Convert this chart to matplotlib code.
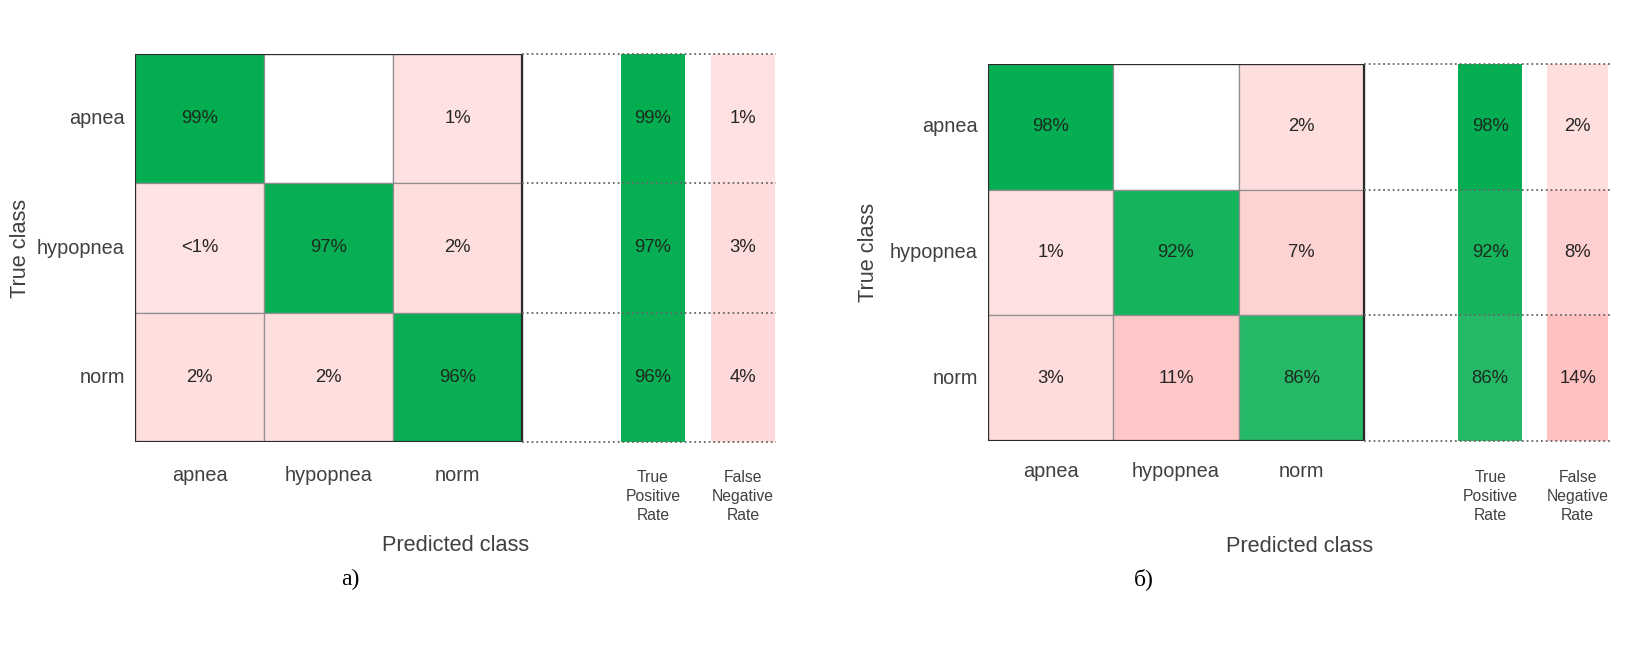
import numpy as np
import matplotlib.pyplot as plt
from matplotlib.patches import Rectangle

plt.rcParams['font.family'] = ['Liberation Sans', 'DejaVu Sans']

# данные
classes = ['apnea', 'hypopnea', 'norm']
side_labels = ['True\nPositive\nRate', 'False\nNegative\nRate']

cm_a = [[99, 0, 1],
        [0.4, 97, 2],
        [2, 2, 96]]
tpr_a = [99, 97, 96]
fnr_a = [1, 3, 4]

cm_b = [[98, 0, 2],
        [1, 92, 7],
        [3, 11, 86]]
tpr_b = [98, 92, 86]
fnr_b = [2, 8, 14]

W, H = 1631, 648
GREEN = np.array([0, 172, 78]) / 255.0


def green_col(v):
    a = min(v / 100.0, 1.0)
    return tuple(1 - a * (1 - GREEN))


def red_col(v):
    if v == 0:
        return (1, 1, 1)
    g = (255 - (28 + 250 * v / 100.0)) / 255.0
    return (1, g, g)


def pct(v):
    if v == 0:
        return ''
    if v < 1:
        return '<1%'
    return f'{v:g}%'


def draw_panel(cm, tpr, fnr, box, tpr_x, fnr_x, xmax, caption, cap_x, ylab_x, col_y, side_y, xlab_y, cap_y):
    # box = (left, top, right, bottom) матрицы в пикселях
    l, t, r, b = box
    cw = (r - l) / 3.0
    ax = plt.gcf().add_axes([l / W, 1 - b / H, xmax * cw / W, (b - t) / H])
    ax.set_xlim(0, xmax)
    ax.set_ylim(3, 0)
    ax.axis('off')

    for i in range(3):
        for j in range(3):
            v = cm[i][j]
            c = green_col(v) if i == j else red_col(v)
            ax.add_patch(Rectangle((j, i), 1, 1, facecolor=c, edgecolor='#8f8f8f', lw=0.9))
            ax.text(j + 0.5, i + 0.5, pct(v), ha='center', va='center', fontsize=13.3,
                    color='#1c2a1f' if i == j else '#262626')
    ax.add_patch(Rectangle((0, 0), 3, 3, fill=False, edgecolor='#2a2a2a', lw=1.6, zorder=3))

    # столбцы TPR / FNR
    for i in range(3):
        ax.add_patch(Rectangle((tpr_x[0], i), tpr_x[1] - tpr_x[0], 1, facecolor=green_col(tpr[i]), lw=0))
        ax.add_patch(Rectangle((fnr_x[0], i), fnr_x[1] - fnr_x[0], 1, facecolor=red_col(fnr[i]), lw=0))
        ax.text(sum(tpr_x) / 2, i + 0.5, pct(tpr[i]), ha='center', va='center', fontsize=13.3, color='#1c2a1f')
        ax.text(sum(fnr_x) / 2, i + 0.5, pct(fnr[i]), ha='center', va='center', fontsize=13.3, color='#262626')
    for y in range(4):
        ax.plot([3, xmax], [y, y], ls=':', color='#666666', lw=1.3, zorder=4, clip_on=False)

    # подписи
    for i, name in enumerate(classes):
        ax.text(-0.08, i + 0.5, name, ha='right', va='center', fontsize=14.3, color='#404040', clip_on=False)
        ax.text(i + 0.5, col_y, name, ha='center', va='center', fontsize=14.3, color='#404040', clip_on=False)
    ax.text(sum(tpr_x) / 2, side_y, side_labels[0], ha='center', va='center', fontsize=11.3,
            linespacing=1.35, color='#404040', clip_on=False)
    ax.text(sum(fnr_x) / 2, side_y, side_labels[1], ha='center', va='center', fontsize=11.3,
            linespacing=1.35, color='#404040', clip_on=False)
    ax.text(xmax / 2, xlab_y, 'Predicted class', ha='center', va='center', fontsize=15.7,
            color='#404040', clip_on=False)
    ax.text(ylab_x, 1.5, 'True class', ha='center', va='center', rotation=90, fontsize=15.7,
            color='#404040', clip_on=False)
    ax.text(cap_x, cap_y, caption, ha='center', va='center', fontsize=17,
            family='Liberation Serif', color='black', clip_on=False)


fig = plt.figure(figsize=(W / 100, H / 100), dpi=100)

draw_panel(cm_a, tpr_a, fnr_a, (135, 54, 522, 442), (3.767, 4.264), (4.465, 4.961), 4.969,
           'a)', 1.67, -0.89, 3.26, 3.42, 3.80, 4.06)
draw_panel(cm_b, tpr_b, fnr_b, (988, 64, 1364, 441), (3.751, 4.262), (4.461, 4.948), 4.964,
           'б)', 1.245, -0.95, 3.24, 3.44, 3.84, 4.10)

plt.savefig('out.png', dpi=100)
